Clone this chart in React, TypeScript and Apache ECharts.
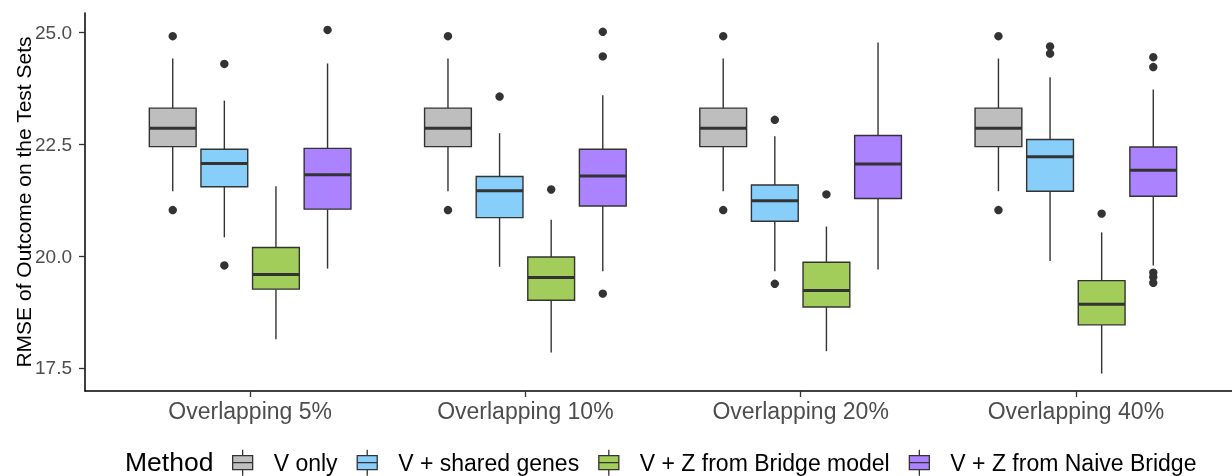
import React, { useEffect, useRef } from 'react';
import * as echarts from 'echarts';

const categories = ['Overlapping 5%', 'Overlapping 10%', 'Overlapping 20%', 'Overlapping 40%'];
const methods = ['V only', 'V + shared genes', 'V + Z from Bridge model', 'V + Z from Naive Bridge'];
const colors = ['#BEBEBE', '#87CEFA', '#A2CD5A', '#AB82FF'];

// [lower whisker, Q1, median, Q3, upper whisker] for each category
const vOnlyStats = [
  [21.45, 22.45, 22.86, 23.31, 24.42],
  [21.45, 22.45, 22.86, 23.31, 24.42],
  [21.45, 22.45, 22.86, 23.31, 24.42],
  [21.45, 22.45, 22.86, 23.31, 24.42],
];
const sharedStats = [
  [20.42, 21.55, 22.07, 22.39, 23.48],
  [19.76, 20.86, 21.46, 21.78, 22.75],
  [19.66, 20.78, 21.24, 21.59, 22.68],
  [19.89, 21.45, 22.22, 22.61, 24.0],
];
const bridgeStats = [
  [18.14, 19.26, 19.59, 20.19, 21.56],
  [17.84, 19.01, 19.52, 19.98, 20.81],
  [17.87, 18.86, 19.23, 19.86, 20.66],
  [17.37, 18.46, 18.92, 19.45, 20.53],
];
const naiveStats = [
  [19.72, 21.05, 21.82, 22.41, 24.31],
  [19.66, 21.12, 21.79, 22.39, 23.6],
  [19.7, 21.29, 22.06, 22.7, 24.78],
  [19.79, 21.34, 21.92, 22.44, 23.73],
];

// [category index, value]
const vOnlyOutliers = [
  [0, 24.92], [0, 21.03], [1, 24.92], [1, 21.03],
  [2, 24.92], [2, 21.03], [3, 24.92], [3, 21.03],
];
const sharedOutliers = [
  [0, 24.3], [0, 19.79], [1, 23.57], [2, 23.05], [2, 19.38], [3, 24.69], [3, 24.53],
];
const bridgeOutliers = [[1, 21.49], [2, 21.38], [3, 20.95]];
const naiveOutliers = [
  [0, 25.06], [1, 25.02], [1, 24.47], [1, 19.16],
  [3, 24.45], [3, 24.23], [3, 19.63], [3, 19.53], [3, 19.4],
];

const yTicks = [17.5, 20.0, 22.5, 25.0];

const allStats = [vOnlyStats, sharedStats, bridgeStats, naiveStats];
const allOutliers = [vOnlyOutliers, sharedOutliers, bridgeOutliers, naiveOutliers];

const FONT = '"Liberation Sans", Arial, Helvetica, sans-serif';
const DODGE = 0.1875;
const BOX_W = 0.17;
const EDGE = '#333333';
const ICON = 'path://M10,0L10,6M0,6L20,6L20,20L0,20ZM0,13L20,13M10,20L10,26';

export default function App() {
  const ref = useRef<HTMLDivElement>(null);
  useEffect(() => {
    if (!ref.current) return;
    const chart = echarts.init(ref.current, null, { renderer: 'svg' });

    const boxSeries = allStats.map((stats, mi) => ({
      type: 'custom',
      name: methods[mi],
      itemStyle: { color: colors[mi] },
      encode: { x: 0, y: [1, 2, 3, 4, 5] },
      data: stats.map((s, gi) => [gi, ...s]),
      renderItem: (params: any, api: any) => {
        const cat = api.value(0);
        const unit = api.size([1, 0])[0];
        const cx = api.coord([cat, 20])[0] + (mi - 1.5) * DODGE * unit;
        const hw = (BOX_W * unit) / 2;
        const py = (k: number) => api.coord([cat, api.value(k)])[1];
        const yLo = py(1), yQ1 = py(2), yMed = py(3), yQ3 = py(4), yHi = py(5);
        return {
          type: 'group',
          children: [
            { type: 'line', shape: { x1: cx, y1: yHi, x2: cx, y2: yQ3 }, style: { stroke: EDGE, lineWidth: 1.4 } },
            { type: 'line', shape: { x1: cx, y1: yQ1, x2: cx, y2: yLo }, style: { stroke: EDGE, lineWidth: 1.4 } },
            {
              type: 'rect',
              shape: { x: cx - hw, y: yQ3, width: 2 * hw, height: yQ1 - yQ3 },
              style: { fill: colors[mi], stroke: EDGE, lineWidth: 1.4 },
            },
            { type: 'line', shape: { x1: cx - hw, y1: yMed, x2: cx + hw, y2: yMed }, style: { stroke: EDGE, lineWidth: 3 } },
          ],
        };
      },
    }));

    const outlierData: number[][] = [];
    allOutliers.forEach((list, mi) => list.forEach(([gi, v]) => outlierData.push([gi, mi, v])));

    const outlierSeries = {
      type: 'custom',
      name: 'outliers',
      encode: { x: 0, y: 2 },
      data: outlierData,
      renderItem: (params: any, api: any) => {
        const cat = api.value(0);
        const mi = api.value(1);
        const unit = api.size([1, 0])[0];
        const p = api.coord([cat, api.value(2)]);
        return {
          type: 'circle',
          shape: { cx: p[0] + (mi - 1.5) * DODGE * unit, cy: p[1], r: 4.2 },
          style: { fill: EDGE },
        };
      },
    };

    chart.setOption({
      animation: false,
      grid: { left: 85, right: -9, top: 13, bottom: 85, containLabel: false, outerBoundsMode: 'none' },
      xAxis: {
        type: 'value',
        min: -0.6,
        max: 3.6,
        splitLine: { show: false },
        axisLine: { show: true, onZero: false, lineStyle: { color: '#000', width: 1.5 } },
        axisTick: { show: true, length: 6, lineStyle: { color: EDGE, width: 1.3 }, customValues: [0, 1, 2, 3] },
        axisLabel: {
          customValues: [0, 1, 2, 3],
          formatter: (v: number) => categories[Math.round(v)],
          fontSize: 23,
          color: '#4D4D4D',
          fontFamily: FONT,
          margin: 8,
        },
      },
      yAxis: {
        type: 'value',
        min: 16.98,
        max: 25.44,
        name: 'RMSE of Outcome on the Test Sets',
        nameLocation: 'middle',
        nameGap: 51,
        nameMoveOverlap: false,
        nameTextStyle: { fontSize: 21, color: '#000', fontFamily: FONT },
        splitLine: { show: false },
        axisLine: { show: true, onZero: false, lineStyle: { color: '#000', width: 1.5 } },
        axisTick: { show: true, length: 6, lineStyle: { color: EDGE, width: 1.3 }, customValues: yTicks },
        axisLabel: {
          customValues: yTicks,
          formatter: (v: number) => v.toFixed(1),
          fontSize: 19,
          color: '#4D4D4D',
          fontFamily: FONT,
          margin: 13,
        },
      },
      legend: {
        left: 232,
        top: 449,
        padding: 0,
        itemWidth: 20,
        itemHeight: 26,
        itemGap: 19,
        selectedMode: false,
        data: methods.map((m, i) => ({
          name: m,
          icon: ICON,
          itemStyle: { color: colors[i], borderColor: EDGE, borderWidth: 1.3 },
        })),
        textStyle: { fontSize: 23, color: '#000', fontFamily: FONT, padding: [0, 0, 0, 16] },
      },
      graphic: [
        {
          type: 'text',
          x: 125,
          y: 462,
          style: { text: 'Method', fontSize: 26.5, fontFamily: FONT, fill: '#000', align: 'left', verticalAlign: 'middle' },
        },
      ],
      series: [...boxSeries, outlierSeries],
    });
    return () => chart.dispose();
  }, []);
  return <div ref={ref} style={{ position: 'fixed', left: 0, top: 0, width: 1232, height: 476 }} />;
}
